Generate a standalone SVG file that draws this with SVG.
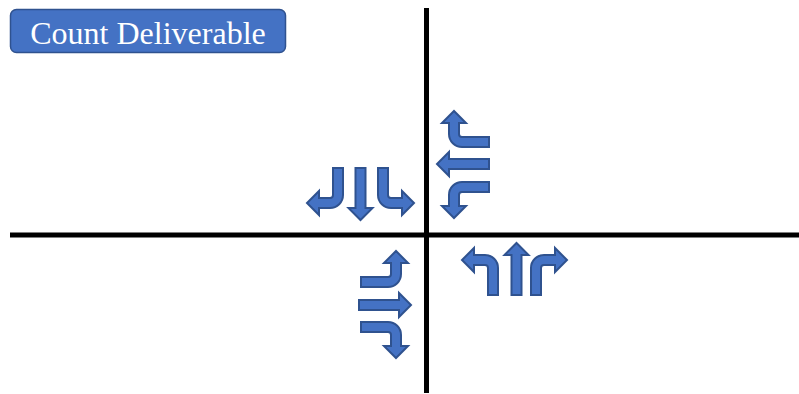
<svg xmlns="http://www.w3.org/2000/svg" xmlns:xlink="http://www.w3.org/1999/xlink" width="799" height="394" viewBox="0 0 799 394">
<style>
.road{stroke:#000;stroke-width:5;fill:none}
.arr{fill:#4472C4;stroke:#2F528F;stroke-width:2;stroke-linejoin:miter}
.btn{fill:#4472C4;stroke:#2F528F;stroke-width:1.5}
.lbl{font-family:"Liberation Serif","Times New Roman",serif;font-size:32px;fill:#fff}
</style>
<defs>
<path id="bent" class="arr" d="M -5 0 L 5 0 L 5 27 A 13 13 0 0 1 -8 40 L -19 40 L -19 47 L -31 35 L -19 23 L -19 30 L -8 30 A 3 3 0 0 0 -5 27 Z"/>
<path id="straight" class="arr" d="M -5 0 L 5 0 L 5 40 L 12 40 L 0 52 L -12 40 L -5 40 Z"/>
</defs>
<g id="roads">
<line class="road" x1="426.5" y1="8" x2="426.5" y2="393"/>
<line class="road" x1="10" y1="235" x2="799" y2="235"/>
</g>
<g id="count-deliverable">
<rect class="btn" x="10.5" y="9.5" width="275" height="43" rx="6"/>
<text class="lbl" x="148" y="43.5" text-anchor="middle">Count Deliverable</text>
</g>
<g id="southbound">
<use xlink:href="#bent" transform="translate(338,168)"/>
<use xlink:href="#straight" transform="translate(360.5,168)"/>
<use xlink:href="#bent" transform="translate(383,168) scale(-1,1)"/>
</g>
<g id="westbound">
<use xlink:href="#bent" transform="translate(489,142) rotate(90)"/>
<use xlink:href="#straight" transform="translate(489,164) rotate(90)"/>
<use xlink:href="#bent" transform="translate(489,187) rotate(90) scale(-1,1)"/>
</g>
<g id="eastbound">
<use xlink:href="#bent" transform="translate(361,282) rotate(-90) scale(-1,1)"/>
<use xlink:href="#straight" transform="translate(359,305) rotate(-90)"/>
<use xlink:href="#bent" transform="translate(361,327) rotate(-90)"/>
</g>
<g id="northbound">
<use xlink:href="#bent" transform="translate(493,295) scale(1,-1)"/>
<use xlink:href="#straight" transform="translate(516.5,295) scale(1,-1)"/>
<use xlink:href="#bent" transform="translate(536,295) scale(-1,-1)"/>
</g>
</svg>
